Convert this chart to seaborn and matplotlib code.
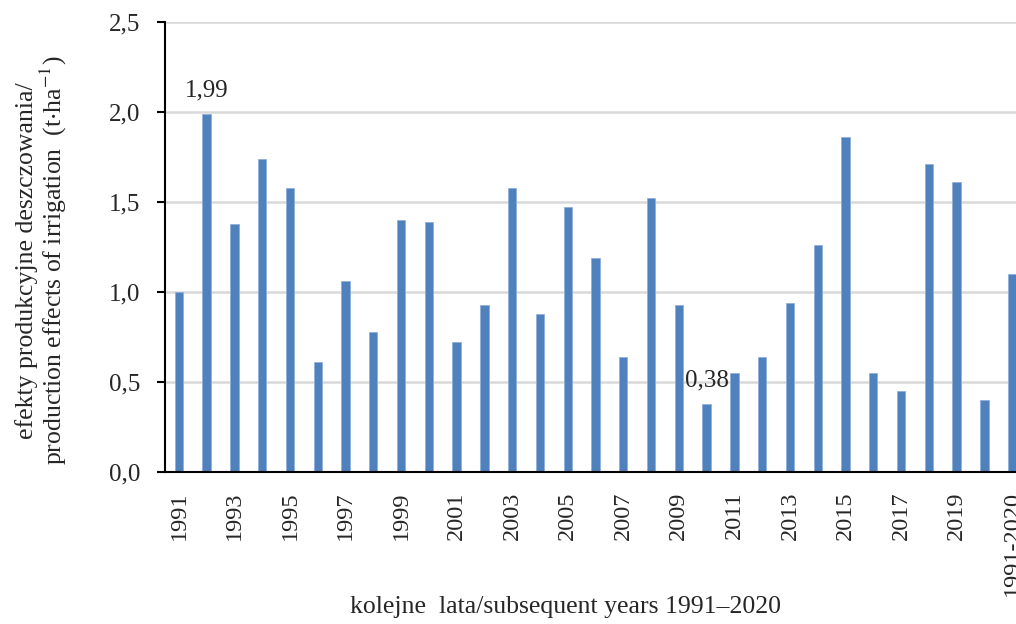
import numpy as np
import pandas as pd
import seaborn as sns
import matplotlib
matplotlib.use("Agg")
import matplotlib.pyplot as plt

# data
years = [str(y) for y in range(1991, 2021)] + ["1991-2020"]
effects = [1.00, 1.99, 1.38, 1.74, 1.58, 0.61, 1.06, 0.78, 1.40, 1.39,
           0.72, 0.93, 1.58, 0.88, 1.47, 1.19, 0.64, 1.52, 0.93, 0.38,
           0.55, 0.64, 0.94, 1.26, 1.86, 0.55, 0.45, 1.71, 1.61, 0.40,
           1.10]
labelled = {"1992": "1,99", "2010": "0,38"}
yticks = [0.0, 0.5, 1.0, 1.5, 2.0, 2.5]

df = pd.DataFrame({"year": years, "effect": effects})

sns.set_style("white")
plt.rcParams["font.family"] = ["Liberation Serif", "DejaVu Serif"]
plt.rcParams["mathtext.fontset"] = "stix"

fig = plt.figure(figsize=(10.16, 6.24), dpi=100)
# axes runs past the right edge, as in the cropped original
ax = fig.add_axes([165 / 1016, 152 / 624, 861 / 1016, 450 / 624])

sns.barplot(data=df, x="year", y="effect", color="#4F81BD", width=0.3,
            edgecolor="#8fb0dc", linewidth=0.6, saturation=1, ax=ax)

ax.set_xlim(-0.5, len(years) - 0.5)
ax.set_ylim(0, 2.5)
ax.set_yticks(yticks)
ax.set_yticklabels([f"{v:.1f}".replace(".", ",") for v in yticks], fontsize=18)
ax.yaxis.grid(True, color="#d9d9d9", linewidth=1.8)
ax.set_axisbelow(True)

# labels on every second year, tick marks between categories
major = list(range(0, len(years) - 1, 2)) + [len(years) - 1]
ax.set_xticks(major)
ax.set_xticklabels([years[i] for i in major], rotation=90, fontsize=17.5)
ax.set_xticks(np.arange(-0.5, len(years)), minor=True)
ax.tick_params(axis="x", which="major", length=0, pad=14)
ax.tick_params(axis="x", which="minor", direction="out", length=6, width=1.5, color="black")
ax.tick_params(axis="y", direction="out", length=6, width=1.5, color="black", left=True, pad=12)

for s in ["top", "right"]:
    ax.spines[s].set_visible(False)
for s in ["left", "bottom"]:
    ax.spines[s].set_color("black")
    ax.spines[s].set_linewidth(1.5)

for yr, txt in labelled.items():
    i = years.index(yr)
    ax.annotate(txt, (i, effects[i]), xytext=(0, 9), textcoords="offset points",
                ha="center", va="bottom", fontsize=18)

ax.set_xlabel("kolejne  lata/subsequent years 1991\u20132020", fontsize=18.5)
ax.xaxis.set_label_coords((566 - 165) / 861, -0.275)
ax.set_ylabel("efekty produkcyjne deszczowania/\nproduction effects of irrigation  (t$\\cdot$ha$^{-1}$)",
              fontsize=18.5, linespacing=1.0)
ax.yaxis.set_label_coords(-0.112, 0.47)

fig.savefig("out.png", dpi=100)
